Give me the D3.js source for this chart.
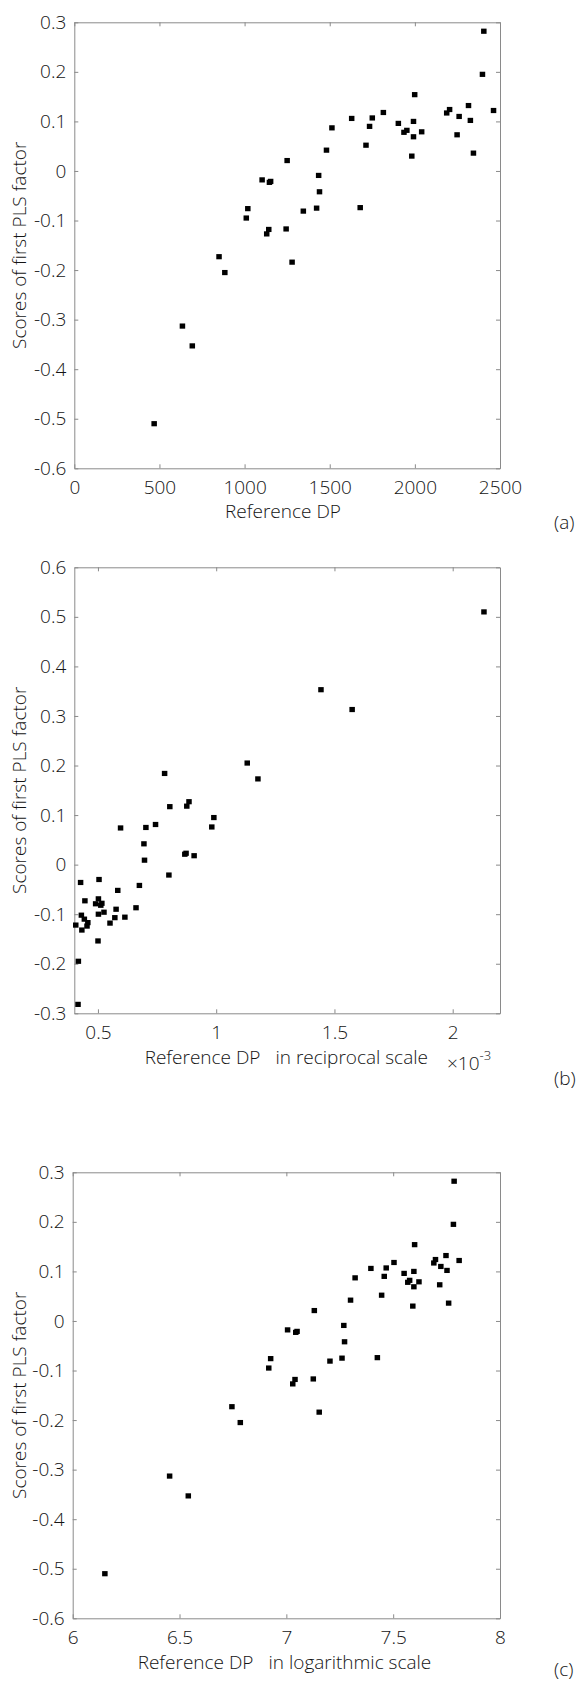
<!DOCTYPE html>
<html lang="en">
<head>
<meta charset="utf-8">
<title>PLS scores vs reference DP</title>
<script src="https://d3js.org/d3.v7.min.js" charset="utf-8"></script>
<style>
body { margin: 0; background: #fff; }
text { font-family: "Open Sans", "Noto Sans", sans-serif; font-weight: 300; fill: #141414; font-size: 19px; }
.axis path, .axis line { stroke: #8a8a8a; }
.dot { fill: #000; }
</style>
</head>
<body>
<script>

var dp = [2405, 2397, 1999, 2462, 2315, 2204, 2187, 2260, 2326, 2248,
          2344, 1815, 1629, 1750, 1734, 1513, 1903, 1992, 1936, 1953,
          2040, 1992, 1982, 1713, 1481, 1250, 1435, 1440, 1423, 1679,
          1345, 1103, 1146, 1153, 1019, 1010, 1142, 1130, 1244, 1279,
          850, 884, 635, 693, 469];
var score = [0.282, 0.195, 0.154, 0.122, 0.132, 0.124, 0.117, 0.110, 0.102, 0.073,
             0.036, 0.118, 0.106, 0.107, 0.090, 0.087, 0.096, 0.100, 0.078, 0.082,
             0.079, 0.069, 0.030, 0.052, 0.042, 0.021, -0.009, -0.042, -0.075, -0.074,
             -0.081, -0.018, -0.023, -0.021, -0.076, -0.095, -0.118, -0.127, -0.117, -0.184,
             -0.173, -0.205, -0.313, -0.353, -0.510];

var xTicksA = [0, 500, 1000, 1500, 2000, 2500];
var xTicksB = [0.5, 1, 1.5, 2];
var xTicksC = [6, 6.5, 7, 7.5, 8];
var yTicksA = [-0.6, -0.5, -0.4, -0.3, -0.2, -0.1, 0, 0.1, 0.2, 0.3];
var yTicksB = [-0.3, -0.2, -0.1, 0, 0.1, 0.2, 0.3, 0.4, 0.5, 0.6];

var W = 577, H = 1683;
var svg = d3.select("body").append("svg")
    .attr("width", W)
    .attr("height", H);

// plain hyphen for negatives, like the original
var fmt = function(d) {
  if (d === 0) return "0";
  return String(+d.toFixed(2));
};

// one panel: box with inward ticks on all four sides
function panel(o) {
  var left = o.left, right = 500, top = o.top, bottom = o.top + 446;
  var x = d3.scaleLinear().domain(o.xDomain).range([left, right]);
  var y = d3.scaleLinear().domain(o.yDomain).range([bottom, top]);

  var g = svg.append("g");

  g.append("g").attr("class", "axis")
    .attr("transform", "translate(0," + bottom + ")")
    .call(d3.axisBottom(x).tickValues(o.xTicks).tickSizeInner(-4).tickSizeOuter(0).tickPadding(12).tickFormat(fmt));
  g.append("g").attr("class", "axis")
    .attr("transform", "translate(0," + top + ")")
    .call(d3.axisTop(x).tickValues(o.xTicks).tickSizeInner(-4).tickSizeOuter(0).tickFormat(""));
  g.append("g").attr("class", "axis")
    .attr("transform", "translate(" + left + ",0)")
    .call(d3.axisLeft(y).tickValues(o.yTicks).tickSizeInner(-4).tickSizeOuter(0).tickPadding(8).tickFormat(fmt));
  g.append("g").attr("class", "axis")
    .attr("transform", "translate(" + right + ",0)")
    .call(d3.axisRight(y).tickValues(o.yTicks).tickSizeInner(-4).tickSizeOuter(0).tickFormat(""));

  g.selectAll(".axis").attr("font-family", null).attr("font-size", null);
  g.selectAll(".axis text").attr("fill", null);

  g.selectAll(".dot")
    .data(o.points)
    .enter().append("rect")
    .attr("class", "dot")
    .attr("x", function(d) { return x(d[0]) - 2.75; })
    .attr("y", function(d) { return y(d[1]) - 2.6; })
    .attr("width", 5.5)
    .attr("height", 5.2);

  // y label
  g.append("text")
    .attr("transform", "translate(26," + (top + bottom) / 2 + ") rotate(-90)")
    .attr("text-anchor", "middle")
    .text("Scores of first PLS factor");

  // x label (two pieces with a gap in panels b and c)
  if (o.xLabel2) {
    g.append("text")
      .attr("x", o.labelEnd).attr("y", bottom + 51)
      .attr("text-anchor", "end")
      .text(o.xLabel);
    g.append("text")
      .attr("x", o.labelEnd + 15).attr("y", bottom + 51)
      .text(o.xLabel2);
  } else {
    g.append("text")
      .attr("x", 283).attr("y", bottom + 50)
      .attr("text-anchor", "middle")
      .text(o.xLabel);
  }

  g.append("text")
    .attr("x", 554).attr("y", bottom + o.tagDy)
    .text(o.tag);

  return g;
}

var pointsA = dp.map(function(d, i) { return [d, score[i]]; });
var pointsB = dp.map(function(d, i) { return [1000 / d, -score[i]]; });
var pointsC = dp.map(function(d, i) { return [Math.log(d), score[i]]; });

panel({ top: 22.3, left: 74.3, xDomain: [0, 2500], yDomain: [-0.6, 0.3], xTicks: xTicksA, yTicks: yTicksA,
        points: pointsA, xLabel: "Reference DP", tag: "(a)", tagDy: 61 });

var gb = panel({ top: 567.3, left: 74.3, xDomain: [0.4, 2.2], yDomain: [-0.3, 0.6], xTicks: xTicksB, yTicks: yTicksB,
        points: pointsB, xLabel: "Reference DP", xLabel2: "in reciprocal scale", labelEnd: 260.5,
        tag: "(b)", tagDy: 72 });

// exponent of the reciprocal axis
var ex = gb.append("text").attr("x", 447).attr("y", 1070);
ex.append("tspan").text("\u00d710");
ex.append("tspan").attr("dy", -10).style("font-size", "13px").text("-3");

panel({ top: 1172.3, left: 72.7, xDomain: [6, 8], yDomain: [-0.6, 0.3], xTicks: xTicksC, yTicks: yTicksA,
        points: pointsC, xLabel: "Reference DP", xLabel2: "in logarithmic scale", labelEnd: 253.5,
        tag: "(c)", tagDy: 58 });
</script>
</body>
</html>
